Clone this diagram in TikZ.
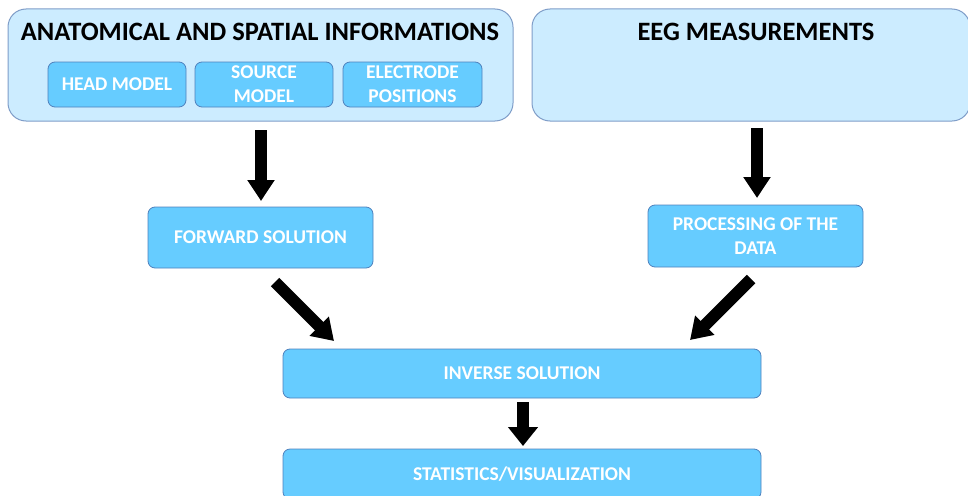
\documentclass[tikz,border=0pt]{standalone}
\usepackage{fontspec}
\setmainfont{Carlito}
\usetikzlibrary{arrows.meta}
\definecolor{outerfill}{RGB}{204,236,255}
\definecolor{outerdraw}{RGB}{127,157,200}
\definecolor{innerfill}{RGB}{102,204,255}
\definecolor{innerdraw}{RGB}{79,129,189}
\tikzset{
  outerbox/.style={draw=outerdraw, fill=outerfill, line width=1pt, rounded corners=18pt},
  innerbox/.style={draw=innerdraw, fill=innerfill, line width=0.8pt, rounded corners=7pt,
    text=white, font=\fontsize{19.5}{24}\selectfont\bfseries, align=center, inner sep=0pt},
  title/.style={font=\fontsize{26.5}{30}\selectfont\bfseries, text=black, inner sep=0pt},
  blockarrow/.style={draw=black, line width=12pt,
    -{Triangle[length=21pt, width=26pt]}},
}
\begin{document}
\begin{tikzpicture}[x=1pt, y=-1pt]
\useasboundingbox (0,0) rectangle (968,495);
% top containers
\node[outerbox, minimum width=505pt, minimum height=112pt] (anat) at (260.5,65) {};
\node[outerbox, minimum width=438pt, minimum height=112pt] (eeg) at (751,65) {};
\node[title] (anatt) at (260,32) {ANATOMICAL AND SPATIAL INFORMATIONS};
\node[title] (eegt) at (756,32) {EEG MEASUREMENTS};
% inputs inside the anatomical container
\node[innerbox, minimum width=138pt, minimum height=45pt] (head) at (117,84.5) {HEAD MODEL};
\node[innerbox, minimum width=138pt, minimum height=45pt] (src) at (264,84.5) {SOURCE\\MODEL};
\node[innerbox, minimum width=139pt, minimum height=45pt] (elec) at (412.5,84.5) {ELECTRODE\\POSITIONS};
% processing steps
\node[innerbox, minimum width=225pt, minimum height=61pt] (fwd) at (260.5,237.5) {FORWARD SOLUTION};
\node[innerbox, minimum width=215pt, minimum height=62pt] (proc) at (755.5,236) {PROCESSING OF THE\\DATA};
\node[innerbox, minimum width=478pt, minimum height=49pt] (inv) at (522,373.5) {INVERSE SOLUTION};
\node[innerbox, minimum width=478pt, minimum height=50pt] (stat) at (522,474) {STATISTICS/VISUALIZATION};
% block arrows between the stages
\coordinate (a1s) at (261,130);
\coordinate (a1e) at (261,201);
\draw[blockarrow] (a1s) -- (a1e);
\coordinate (a2s) at (757,128);
\coordinate (a2e) at (757,198);
\draw[blockarrow] (a2s) -- (a2e);
\coordinate (a3s) at (275,282);
\coordinate (a3e) at (334,341);
\draw[blockarrow] (a3s) -- (a3e);
\coordinate (a4s) at (751,279);
\coordinate (a4e) at (690,340);
\draw[blockarrow] (a4s) -- (a4e);
\coordinate (a5s) at (523,402);
\coordinate (a5e) at (523,446);
\draw[blockarrow, -{Triangle[length=19pt, width=29pt]}] (a5s) -- (a5e);
\end{tikzpicture}
\end{document}
